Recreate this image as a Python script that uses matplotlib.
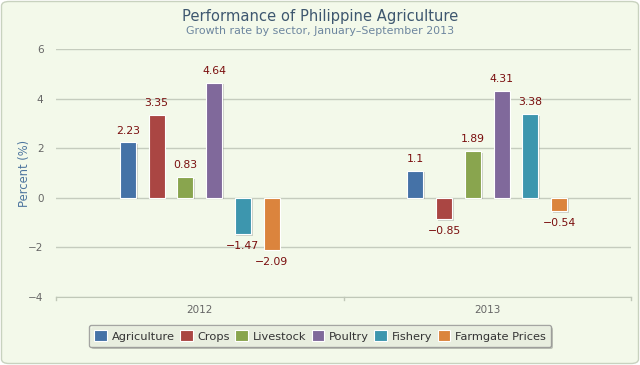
import matplotlib
matplotlib.use("Agg")
import matplotlib.pyplot as plt
import matplotlib.patheffects as pe
from matplotlib.patches import FancyBboxPatch
import numpy as np

YEARS = ["2012", "2013"]
SECTORS = ["Agriculture", "Crops", "Livestock", "Poultry", "Fishery", "Farmgate Prices"]
GROWTH_2012 = [2.23, 3.35, 0.83, 4.64, -1.47, -2.09]
GROWTH_2013 = [1.1, -0.85, 1.89, 4.31, 3.38, -0.54]
COLORS = ["#4572A7", "#AA4643", "#89A54E", "#80699B", "#3D96AE", "#DB843D"]
Y_TICKS = [-4, -2, 0, 2, 4, 6]

W, H = 640, 365
BG = "#f3f9ea"

fig = plt.figure(figsize=(W / 100, H / 100), dpi=100)
fig.patch.set_facecolor("white")
fig.patches.append(FancyBboxPatch((1.5 / W, 1.5 / H), (W - 3) / W, (H - 3) / H,
                                  boxstyle="round,pad=0,rounding_size=0.012",
                                  transform=fig.transFigure, facecolor=BG,
                                  edgecolor="#c8d2bf", lw=1.0, zorder=-5))

ax = fig.add_axes([56 / W, (H - 297) / H, (631 - 56) / W, (297 - 49) / H])
ax.set_facecolor("none")
ax.set_xlim(-0.5, 1.5)
ax.set_ylim(-4, 6)

values = np.array([GROWTH_2012, GROWTH_2013])
x = np.arange(len(YEARS))
width = 0.056
shadow = [pe.SimplePatchShadow(offset=(1.2, -1.2), shadow_rgbFace="#888888", alpha=0.35),
          pe.Normal()]
for i, (name, color) in enumerate(zip(SECTORS, COLORS)):
    pos = x + (i - 2.5) * 0.1
    ax.bar(pos, values[:, i], width, color=color, edgecolor="#ffffff",
           linewidth=0.8, label=name, zorder=3, path_effects=shadow)
    for xp, v in zip(pos, values[:, i]):
        ax.annotate(f"{v:g}".replace("-", "\u2212"), (xp, v),
                    xytext=(0, 5 if v >= 0 else -5),
                    textcoords="offset points", ha="center",
                    va="bottom" if v >= 0 else "top",
                    fontsize=7.8, color="#7a0e0e", zorder=4)

ax.set_yticks(Y_TICKS)
ax.set_yticklabels([str(t).replace("-", "\u2212") for t in Y_TICKS])
ax.grid(axis="y", color="#c5ccbe", lw=1.0, zorder=0)
ax.set_xticks(x)
ax.set_xticklabels(YEARS)
ax.tick_params(axis="y", length=0, labelsize=7.5, labelcolor="#666666", pad=9)
ax.tick_params(axis="x", length=0, labelsize=7.5, labelcolor="#666666", pad=6)
for xt in [-0.5, 0.5, 1.5]:
    ax.plot([xt, xt], [-4, -4.12], color="#c0c8b8", lw=1, clip_on=False)
for side in ["top", "right", "left"]:
    ax.spines[side].set_visible(False)
ax.spines["bottom"].set_color("#c0c8b8")
ax.set_ylabel("Percent (%)", fontsize=8.3, color="#4d759e", labelpad=-2)

fig.text(320 / W, 1 - 17 / H, "Performance of Philippine Agriculture",
         ha="center", va="center", fontsize=10.6, color="#3E576F")
fig.text(320 / W, 1 - 31 / H, "Growth rate by sector, January\u2013September 2013",
         ha="center", va="center", fontsize=7.9, color="#6D869F")

leg = fig.legend(loc="center", bbox_to_anchor=(320 / W, 1 - 336 / H), ncol=6,
                 fontsize=8.2, frameon=True, fancybox=True, shadow=False,
                 handlelength=1.1, handleheight=1.1, handletextpad=0.4,
                 columnspacing=0.5, borderpad=0.45, labelcolor="#333333")
leg.get_frame().set_edgecolor("#909090")
leg.get_frame().set_facecolor(BG)
leg.get_frame().set_path_effects([pe.SimplePatchShadow(offset=(1.5, -1.5), alpha=0.3), pe.Normal()])
for h in leg.legend_handles:
    h.set_path_effects([])

fig.savefig("out.png", dpi=100, facecolor=fig.get_facecolor())
